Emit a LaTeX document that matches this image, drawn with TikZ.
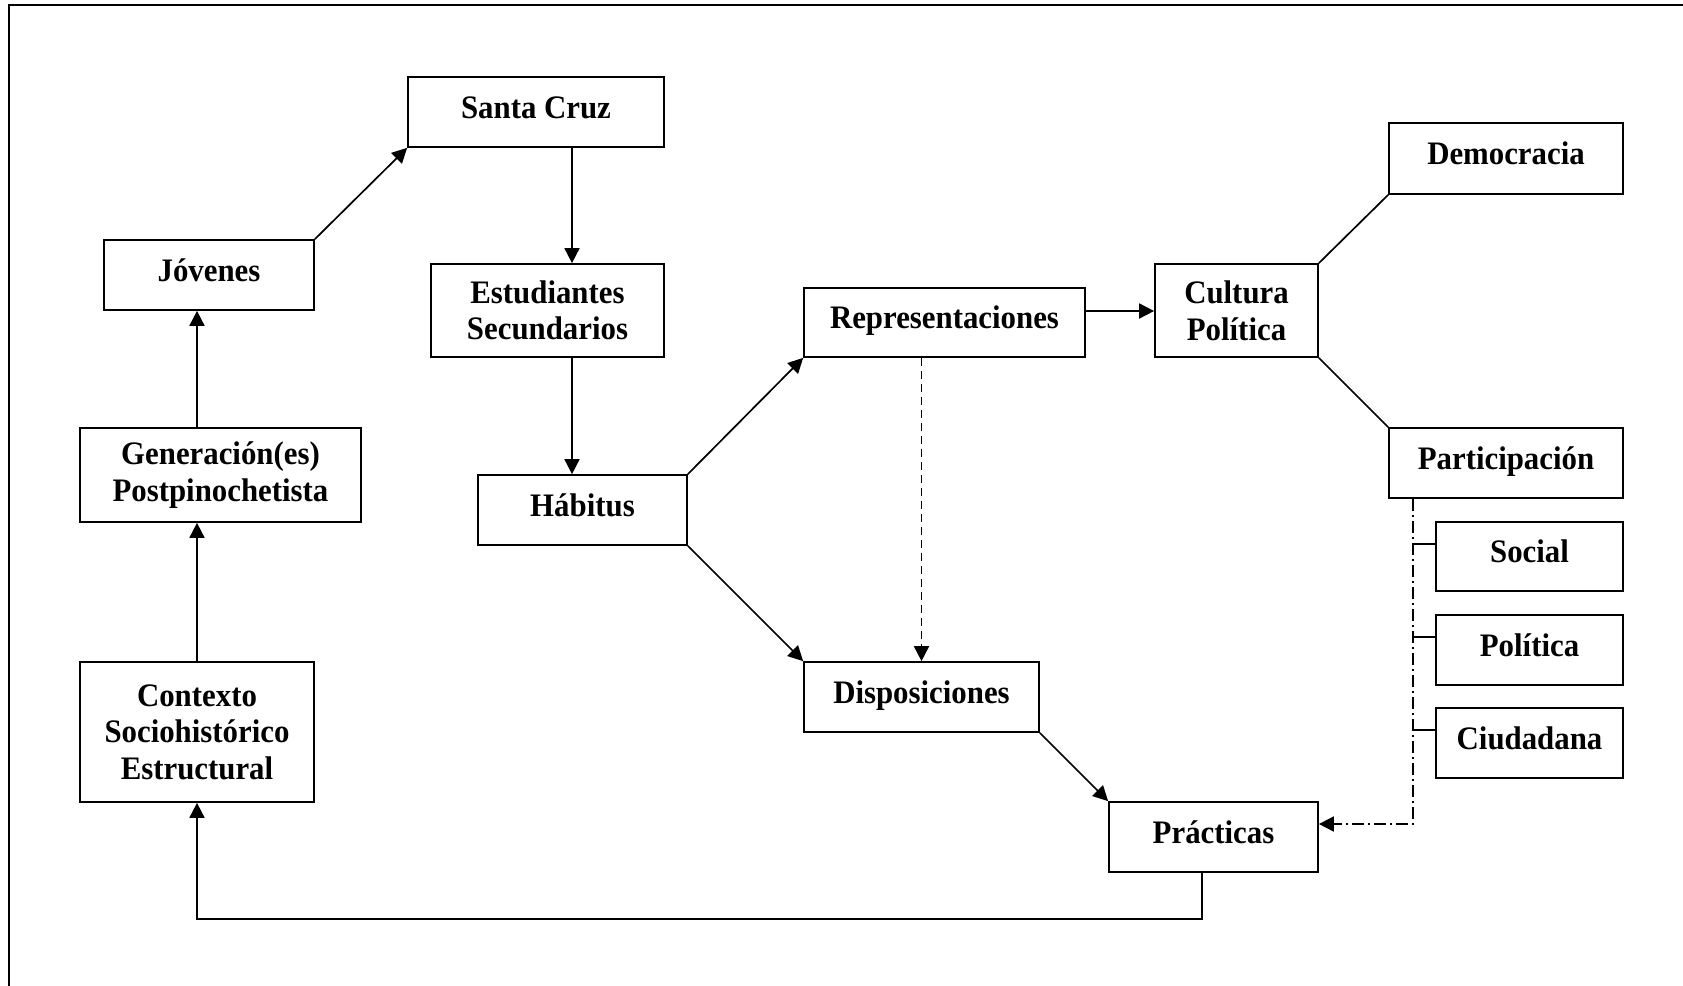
\documentclass[tikz,border=0pt]{standalone}
\usepackage{fontspec}
\setmainfont{Liberation Serif}[FakeStretch=0.94]
\usetikzlibrary{arrows.meta,calc}
\begin{document}
\begin{tikzpicture}[x=0.5pt, y=-0.5pt,
  box/.style={draw, line width=0.85pt, inner sep=0pt, align=center,
    font=\fontsize{16.4}{18.3}\selectfont\bfseries},
  sz/.style 2 args={minimum width=#1*0.5pt, minimum height=#2*0.5pt},
  oneline/.style={text height=12pt, text depth=5.7pt},
  arr/.style={line width=0.85pt, -{Triangle[length=7.5pt,width=7.5pt]}},
  lnk/.style={line width=0.85pt},
  dotted arr/.style={arr, dash pattern=on 4pt off 2.5pt},
  dashdot arr/.style={arr, dash pattern=on 6pt off 2pt on 1pt off 2pt}]
\useasboundingbox (0,0) rectangle (1683,986);
\draw[line width=1.2pt] (9,986) -- (9,5) -- (1683,5);

\node[box, sz={256}{70}, oneline] (santa) at (536,112) {Santa Cruz};
\node[box, sz={210}{70}, oneline] (jov) at (209,275) {Jóvenes};
\node[box, sz={281}{94}] (gen) at (220.5,475) {Generación(es)\\Postpinochetista};
\node[box, sz={234}{140}] (ctx) at (197,732) {Contexto\\Sociohistórico\\Estructural};
\node[box, sz={233}{93}] (est) at (547.5,310.5) {Estudiantes\\Secundarios};
\node[box, sz={209}{70}, oneline] (hab) at (582.5,510) {Hábitus};
\node[box, sz={281}{69}, oneline] (rep) at (944.5,322.5) {Representaciones};
\node[box, sz={235}{70}, oneline] (dis) at (921.5,697) {Disposiciones};
\node[box, sz={163}{93}] (cul) at (1236.5,310.5) {Cultura\\Política};
\node[box, sz={234}{71}, oneline] (dem) at (1506,158.5) {Democracia};
\node[box, sz={234}{70}, oneline] (par) at (1506,463) {Participación};
\node[box, sz={187}{69}, oneline] (soc) at (1529.5,556.5) {Social};
\node[box, sz={187}{70}, oneline] (pol) at (1529.5,650) {Política};
\node[box, sz={187}{70}, oneline] (ciu) at (1529.5,743) {Ciudadana};
\node[box, sz={209}{70}, oneline] (pra) at (1213.5,837) {Prácticas};

% columns and rows of the connectors
\coordinate (colA) at (572,0);
\coordinate (colC) at (1202,0);
\coordinate (colD) at (1413,0);
\coordinate (rowA) at (0,919);
\coordinate (rowB) at (0,311);
\coordinate (rowC) at (0,824);

\draw[arr] (ctx.north) -- (gen.south -| ctx.north);
\draw[arr] (gen.north -| ctx.north) -- (jov.south -| ctx.north);
\draw[arr] (jov.north east) -- (santa.south west);
\draw[arr] (santa.south -| colA) -- (est.north -| colA);
\draw[arr] (est.south -| colA) -- (hab.north -| colA);
\draw[arr] (hab.north east) -- (rep.south west);
\draw[arr] (hab.south east) -- (dis.north west);
\draw[dotted arr] (rep.south -| dis.north) -- (dis.north);
\draw[arr] (rep.east |- rowB) -- (cul.west |- rowB);
\draw[lnk] (cul.north east) -- (dem.south west);
\draw[lnk] (cul.south east) -- (par.north west);
\draw[arr] (dis.south east) -- (pra.north west);
\draw[arr] (pra.south -| colC) -- (colC |- rowA) -| (ctx.south);

% participation branches
\draw[dashdot arr] (par.south -| colD) |- (pra.east |- rowC);
\foreach \b in {soc,pol,ciu}
  \draw[lnk] ($(\b.north west)+(0,23)$) -- ++(-23,0);
\end{tikzpicture}
\end{document}
